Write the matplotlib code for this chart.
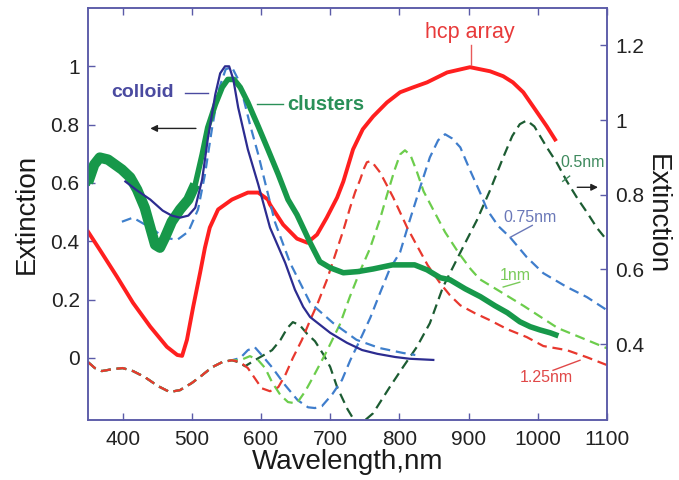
import matplotlib
matplotlib.use("Agg")
import matplotlib.pyplot as plt

plt.rcParams['font.family'] = ['Liberation Sans', 'DejaVu Sans']

# ---------------- measured spectra (left axis) ----------------
hcp_wl = [350, 367, 392, 415, 440, 464, 479, 486, 493, 502, 512, 519, 526, 538, 558, 581,
          596, 610, 613, 632, 652, 667, 681, 695, 710, 719, 733, 747, 762, 782, 801, 820,
          840, 869, 902, 931, 950, 964, 979, 993, 1013, 1025]
hcp_ext = [0.433, 0.371, 0.278, 0.189, 0.107, 0.038, 0.010, 0.007, 0.062, 0.175, 0.292, 0.378,
           0.447, 0.509, 0.543, 0.567, 0.567, 0.543, 0.526, 0.457, 0.409, 0.395, 0.423, 0.481,
           0.550, 0.605, 0.715, 0.784, 0.828, 0.876, 0.911, 0.928, 0.945, 0.979, 0.997, 0.983,
           0.966, 0.945, 0.911, 0.863, 0.794, 0.749]

clusters_wl = [350, 359, 367, 379, 389, 399, 411, 421, 432, 440, 447, 454, 461, 471, 483, 495,
               505, 515, 523, 534, 544, 552, 561, 570, 581, 596, 610, 625, 639, 652, 671, 685,
               700, 719, 740, 762, 790, 822, 840, 859, 873, 895, 917, 938, 956, 974, 989, 1003,
               1018, 1026]
clusters_ext = [0.601, 0.663, 0.687, 0.680, 0.663, 0.646, 0.619, 0.577, 0.515, 0.447, 0.388,
                0.378, 0.412, 0.467, 0.509, 0.543, 0.595, 0.698, 0.790, 0.869, 0.928, 0.955,
                0.955, 0.928, 0.876, 0.794, 0.715, 0.629, 0.543, 0.491, 0.395, 0.330, 0.309,
                0.292, 0.296, 0.305, 0.319, 0.319, 0.302, 0.275, 0.268, 0.237, 0.210, 0.179,
                0.155, 0.124, 0.107, 0.096, 0.086, 0.079]

colloid_wl = [404, 421, 440, 458, 471, 483, 495, 505, 515, 523, 534, 541, 548, 554, 560, 567,
              581, 596, 613, 635, 649, 661, 671, 700, 724, 746, 768, 794, 815, 849]
colloid_ext = [0.605, 0.574, 0.543, 0.505, 0.488, 0.481, 0.488, 0.515, 0.612, 0.749, 0.904,
               0.976, 1.000, 1.000, 0.955, 0.859, 0.715, 0.595, 0.447, 0.326, 0.234, 0.175,
               0.140, 0.086, 0.052, 0.027, 0.014, 0.003, -0.003, -0.007]

colloid_sim_wl = [399, 415, 440, 461, 479, 495, 509, 519, 529, 539, 549, 558, 567, 575, 584,
                  596, 606, 620, 642, 671, 704, 738, 771, 805, 823]
colloid_sim_ext = [0.467, 0.481, 0.447, 0.412, 0.405, 0.433, 0.509, 0.629, 0.784, 0.921, 0.990,
                   0.997, 0.955, 0.887, 0.801, 0.698, 0.601, 0.467, 0.326, 0.189, 0.120, 0.062,
                   0.034, 0.017, 0.010]

# ---------------- simulated spectra (right axis) ----------------
# shared short-wavelength part of all gap-size spectra
sim_base_wl = [350, 360, 370, 385, 400, 415, 432, 451, 468, 483, 500, 515, 529, 544, 558]
sim_base_ext = [0.352, 0.336, 0.328, 0.333, 0.336, 0.328, 0.312, 0.288, 0.272, 0.277, 0.296,
                0.317, 0.338, 0.352, 0.357]

gap125_wl = [570, 581, 591, 601, 613, 625, 635, 646, 659, 671, 682, 695, 707, 719, 729, 736,
             743, 749, 753, 758, 762, 772, 782, 791, 801, 811, 825, 841, 859, 873, 888, 909,
             931, 956, 984, 1008, 1042, 1071, 1100]
gap125_ext = [0.352, 0.336, 0.309, 0.282, 0.274, 0.285, 0.317, 0.363, 0.411, 0.464, 0.510,
              0.571, 0.638, 0.705, 0.767, 0.807, 0.839, 0.871, 0.887, 0.890, 0.884, 0.860,
              0.825, 0.793, 0.753, 0.713, 0.665, 0.611, 0.563, 0.531, 0.504, 0.483, 0.464,
              0.440, 0.419, 0.395, 0.384, 0.365, 0.344]

gap1_wl = [570, 584, 596, 606, 616, 628, 639, 649, 653, 664, 675, 695, 714, 728, 743, 757, 772,
           782, 793, 801, 808, 816, 825, 835, 850, 866, 885, 903, 916, 942, 980, 1029, 1100]
gap1_ext = [0.357, 0.368, 0.357, 0.336, 0.298, 0.264, 0.245, 0.242, 0.245, 0.274, 0.311, 0.381,
            0.453, 0.525, 0.595, 0.654, 0.735, 0.799, 0.866, 0.908, 0.919, 0.906, 0.863, 0.809,
            0.756, 0.700, 0.646, 0.601, 0.574, 0.545, 0.502, 0.443, 0.389]

gap075_wl = [570, 581, 591, 601, 616, 635, 653, 668, 678, 688, 703, 717, 729, 743, 758, 772,
             786, 801, 815, 830, 844, 856, 866, 876, 888, 902, 917, 927, 943, 960, 984, 1008,
             1042, 1071, 1100]
gap075_ext = [0.363, 0.384, 0.392, 0.371, 0.338, 0.290, 0.250, 0.231, 0.229, 0.234, 0.266,
              0.304, 0.357, 0.411, 0.471, 0.537, 0.601, 0.646, 0.732, 0.820, 0.900, 0.946,
              0.962, 0.951, 0.927, 0.866, 0.804, 0.759, 0.716, 0.686, 0.633, 0.590, 0.553,
              0.526, 0.491]

gap05_wl = [567, 577, 591, 606, 616, 628, 638, 646, 656, 667, 678, 690, 700, 710, 725, 740,
            762, 786, 805, 825, 844, 863, 892, 912, 931, 950, 963, 974, 984, 995, 1013, 1028,
            1042, 1057, 1071, 1086, 1100]
gap05_ext = [0.352, 0.341, 0.357, 0.373, 0.384, 0.411, 0.443, 0.459, 0.451, 0.427, 0.408,
             0.373, 0.339, 0.285, 0.226, 0.180, 0.215, 0.285, 0.338, 0.392, 0.456, 0.553,
             0.660, 0.732, 0.812, 0.900, 0.957, 0.989, 0.999, 0.983, 0.927, 0.884, 0.836,
             0.791, 0.753, 0.710, 0.678]

# ---------------- styling ----------------
SPINE = '#5b5ba8'
C_HCP = '#ff1f1f'
C_CLU = '#17984a'
C_COL = '#2c2c90'
C_COLSIM = '#3f80cc'
C_125 = '#e8382e'
C_1 = '#6ccd4c'
C_075 = '#3f7dcc'
C_05 = '#1c5c32'
DASH = (0, (4.5, 2.6))

fig = plt.figure(figsize=(6.79, 4.80), dpi=100)
ax = fig.add_axes([88 / 679, 60 / 480, 519 / 679, 412 / 480])
ax2 = ax.twinx()
ax.set_zorder(ax2.get_zorder() + 1)
ax.patch.set_visible(False)

# simulated gap series on the right axis
for wl, ext, col in [(gap05_wl, gap05_ext, C_05), (gap075_wl, gap075_ext, C_075),
                     (gap1_wl, gap1_ext, C_1), (gap125_wl, gap125_ext, C_125)]:
    ax2.plot(sim_base_wl + wl, sim_base_ext + ext, color=col, lw=1.6, ls=DASH)

# measured spectra on the left axis
ax.plot(hcp_wl, hcp_ext, color=C_HCP, lw=2.8, solid_joinstyle='round')
ax.plot(colloid_sim_wl, colloid_sim_ext, color=C_COLSIM, lw=1.6, ls=DASH)
ax.plot(clusters_wl, clusters_ext, color=C_CLU, lw=4.0, solid_joinstyle='round')
# the short-wavelength part of the cluster spectrum is a much wider (noisier) band
n_wide = clusters_wl.index(505) + 1
ax.plot(clusters_wl[:n_wide], clusters_ext[:n_wide], color=C_CLU, lw=7.5,
        solid_joinstyle='round', solid_capstyle='butt')
ax.plot(colloid_wl, colloid_ext, color=C_COL, lw=1.6)

ax.set_xlim(350, 1100)
ax.set_ylim(-0.213, 1.2)
ax2.set_ylim(0.197, 1.30)

ax.set_xticks([400, 500, 600, 700, 800, 900, 1000, 1100])
ax.set_yticks([0, 0.2, 0.4, 0.6, 0.8, 1])
ax.set_yticklabels(['0', '0.2', '0.4', '0.6', '0.8', '1'])
ax2.set_yticks([0.4, 0.6, 0.8, 1.0, 1.2])
ax2.set_yticklabels(['0.4', '0.6', '0.8', '1', '1.2'])

for a in (ax, ax2):
    for s in a.spines.values():
        s.set_color(SPINE)
        s.set_linewidth(1.1)
ax.tick_params(axis='x', direction='in', top=True, length=5, width=1.0, color=SPINE,
               labelsize=15, labelcolor='#222222', pad=7)
ax.tick_params(axis='y', direction='in', length=5, width=1.0, color=SPINE,
               labelsize=15, labelcolor='#222222', pad=6)
ax2.tick_params(axis='y', direction='in', length=5, width=1.0, color=SPINE,
                labelsize=15, labelcolor='#222222', pad=6)

ax.set_xlabel('Wavelength,nm', fontsize=20, color='#1a1a1a', labelpad=0)
ax.set_ylabel('Extinction', fontsize=20, color='#1a1a1a', labelpad=8)
ax2.set_ylabel('Extinction', fontsize=20, color='#1a1a1a', rotation=270, labelpad=18)

# ---------------- annotations ----------------
ax.text(902, 1.117, 'hcp array', color='#e83a3a', fontsize=15.5, ha='center', va='center')
ax.plot([904, 904], [1.073, 1.003], color='#e85a5a', lw=1.0)

ax.text(384, 0.909, 'colloid', color='#4a4aa0', fontsize=14, ha='left', va='center',
        fontweight='bold')
ax.plot([490, 523], [0.909, 0.909], color='#4a4aa0', lw=1.0)

ax.text(638, 0.869, 'clusters', color='#2a9058', fontsize=14.5, ha='left', va='center',
        fontweight='bold')
ax.plot([594, 632], [0.872, 0.872], color='#2a9058', lw=1.0)

ax.annotate('', xy=(436, 0.787), xytext=(510, 0.787),
            arrowprops=dict(arrowstyle='-|>', color='#222222', lw=1.0, mutation_scale=10))
ax2.annotate('', xy=(1091, 0.820), xytext=(1053, 0.820),
             arrowprops=dict(arrowstyle='-|>', color='#222222', lw=1.0, mutation_scale=10))

ax2.text(1032, 0.887, '0.5nm', color='#3f8a5e', fontsize=11.5, ha='left', va='center')
ax2.plot([1036, 1046], [0.836, 0.850], color='#3f8a5e', lw=1.0)

ax2.text(950, 0.740, '0.75nm', color='#6a78b8', fontsize=11.5, ha='left', va='center')
ax2.plot([960, 992], [0.686, 0.718], color='#6a78b8', lw=1.0)

ax2.text(945, 0.585, '1nm', color='#7acb5a', fontsize=11.5, ha='left', va='center')
ax2.plot([950, 974], [0.553, 0.566], color='#7acb5a', lw=1.0)

ax2.text(974, 0.312, '1.25nm', color='#e04848', fontsize=11.5, ha='left', va='center')
ax2.plot([1022, 1061], [0.330, 0.357], color='#e04848', lw=1.0)

fig.savefig('out.png', dpi=100)
